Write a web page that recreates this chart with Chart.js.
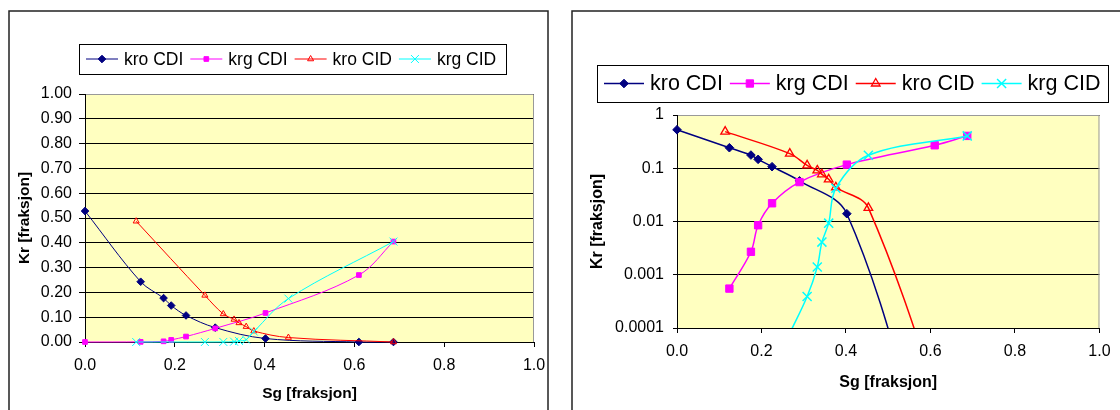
<!DOCTYPE html>
<html>
<head>
<meta charset="utf-8">
<title>Relativ permeabilitet</title>
<script src="https://cdn.jsdelivr.net/npm/chart.js@4.4.1/dist/chart.umd.min.js"></script>
<style>
    html, body { margin: 0; padding: 0; background: #fff; }
    #wrap { position: relative; width: 1120px; height: 410px; overflow: hidden; }
    #wrap canvas { position: absolute; top: 0; }
    #lin-chart { left: 0; }
    #log-chart { left: 560px; }
</style>
</head>
<body>
<div id="wrap">
    <canvas id="lin-chart" width="560" height="410"></canvas>
    <canvas id="log-chart" width="560" height="410"></canvas>
</div>
<script>
// Gas saturation for the two test sequences
var sgCDI = [0, 0.124, 0.175, 0.192, 0.225, 0.290, 0.402, 0.610, 0.687];
var sgCID = [0.114, 0.267, 0.308, 0.332, 0.343, 0.359, 0.376, 0.453, 0.687];

// Relative permeabilities
var kroCDI = [0.528, 0.243, 0.177, 0.147, 0.107, 0.058, 0.014, 1e-7, 0];
var krgCDI = [0, 0.00055, 0.0027, 0.0085, 0.022, 0.055, 0.117, 0.270, 0.405];
var kroCID = [0.487, 0.188, 0.113, 0.091, 0.077, 0.062, 0.044, 0.018, 1e-7];
var krgCID = [0, 0.00008, 0.00039, 0.0014, 0.0041, 0.0093, 0.042, 0.175, 0.405];

var seriesNames = ['kro CDI', 'krg CDI', 'kro CID', 'krg CID'];

// Axis ticks
var sgTicks = [0, 0.2, 0.4, 0.6, 0.8, 1.0];
var sgTickLabels = ['0.0', '0.2', '0.4', '0.6', '0.8', '1.0'];
var krLinTicks = [0, 0.1, 0.2, 0.3, 0.4, 0.5, 0.6, 0.7, 0.8, 0.9, 1.0];
var krLinTickLabels = ['0.00', '0.10', '0.20', '0.30', '0.40', '0.50', '0.60', '0.70', '0.80', '0.90', '1.00'];
var krLogTicks = [0.0001, 0.001, 0.01, 0.1, 1];
var krLogTickLabels = ['0.0001', '0.001', '0.01', '0.1', '1'];

var FONT = '"Liberation Sans", Arial, sans-serif';

var seriesStyle = [
    { color: '#000080', marker: 'rectRot', fill: true },
    { color: '#ff00ff', marker: 'rect', fill: true },
    { color: '#ff0000', marker: 'triangle', fill: false },
    { color: '#00ffff', marker: 'crossRot', fill: false }
];

// Frame, plot border and legend drawn Excel style
var excelChrome = {
    id: 'excelChrome',
    beforeDraw: function(chart, args, opts) {
        var ctx = chart.ctx, a = chart.chartArea, f = opts.frame;
        ctx.save();
        ctx.fillStyle = '#fff';
        ctx.fillRect(0, 0, chart.width, chart.height);
        ctx.strokeStyle = '#222';
        ctx.lineWidth = 1.5;
        ctx.strokeRect(f.x, f.y, f.w, f.h);
        ctx.fillStyle = '#ffffc0';
        ctx.fillRect(a.left, a.top, a.right - a.left, a.bottom - a.top);
        ctx.restore();
    },
    beforeDatasetsDraw: function(chart) {
        var ctx = chart.ctx, a = chart.chartArea;
        ctx.save();
        ctx.strokeStyle = '#999';
        ctx.lineWidth = 1;
        ctx.beginPath();
        ctx.moveTo(a.left + 1, a.top + 0.5);
        ctx.lineTo(a.right - 0.5, a.top + 0.5);
        ctx.lineTo(a.right - 0.5, a.bottom);
        ctx.stroke();
        ctx.restore();
    },
    afterDraw: function(chart, args, opts) {
        var ctx = chart.ctx, L = opts.legend;
        ctx.save();
        ctx.fillStyle = '#fff';
        ctx.fillRect(L.x, L.y, L.w, L.h);
        ctx.strokeStyle = '#000';
        ctx.lineWidth = 1;
        ctx.strokeRect(L.x + 0.5, L.y + 0.5, L.w, L.h);

        ctx.font = L.fontSize + 'px ' + FONT;
        ctx.textBaseline = 'middle';
        ctx.textAlign = 'left';
        var cx = L.startX, cy = L.y + L.h / 2;
        chart.data.datasets.forEach(function(ds) {
            ctx.strokeStyle = ds.borderColor;
            ctx.lineWidth = ds.borderWidth;
            ctx.beginPath();
            ctx.moveTo(cx, cy);
            ctx.lineTo(cx + L.lineLen, cy);
            ctx.stroke();

            ctx.fillStyle = ds.pointBackgroundColor;
            ctx.strokeStyle = ds.pointBorderColor;
            ctx.lineWidth = ds.pointBorderWidth;
            Chart.helpers.drawPoint(ctx, {
                pointStyle: ds.pointStyle,
                radius: ds.pointRadius,
                rotation: 0,
                borderWidth: ds.pointBorderWidth
            }, cx + L.lineLen / 2, cy);

            ctx.fillStyle = '#000';
            var tx = cx + L.lineLen + L.textGap;
            ctx.fillText(ds.label, tx, cy + L.textDy);
            cx = tx + ctx.measureText(ds.label).width + L.itemGap;
        });
        ctx.restore();
    }
};

function buildDatasets(isLog, radii, lineWidth, markerWidth) {
    var xs = [sgCDI, sgCDI, sgCID, sgCID];
    var ys = [kroCDI, krgCDI, kroCID, krgCID];
    return seriesNames.map(function(name, i) {
        var st = seriesStyle[i];
        var pts = xs[i].map(function(x, j) {
            var v = ys[i][j];
            // zero has no place on a log axis
            return { x: x, y: (isLog && v <= 0) ? null : v };
        });
        return {
            label: name,
            data: pts,
            showLine: true,
            borderColor: st.color,
            borderWidth: lineWidth,
            tension: 0.35,
            pointStyle: st.marker,
            pointRadius: radii[i],
            pointHoverRadius: radii[i],
            pointBackgroundColor: st.fill ? st.color : 'rgba(0,0,0,0)',
            pointBorderColor: st.color,
            pointBorderWidth: markerWidth[i],
            order: 3 - i,
            clip: { left: 10, top: 10, right: 10, bottom: isLog ? 0 : 10 }
        };
    });
}

function fixedTicks(values) {
    return function(scale) {
        scale.ticks = values.map(function(v) { return { value: v }; });
    };
}

function makeChart(canvasId, cfg) {
    var isLog = cfg.log;
    return new Chart(document.getElementById(canvasId).getContext('2d'), {
        type: 'scatter',
        data: { datasets: buildDatasets(isLog, cfg.radii, cfg.lineWidth, cfg.markerWidth) },
        plugins: [excelChrome],
        options: {
            responsive: false,
            maintainAspectRatio: false,
            animation: false,
            devicePixelRatio: 1,
            layout: { padding: cfg.padding },
            elements: { line: { capBezierPoints: false } },
            plugins: {
                legend: { display: false },
                tooltip: { enabled: false },
                excelChrome: { frame: cfg.frame, legend: cfg.legend }
            },
            scales: {
                x: {
                    type: 'linear',
                    min: 0, max: 1,
                    afterBuildTicks: fixedTicks(sgTicks),
                    afterFit: function(scale) { scale.height = cfg.xHeight; },
                    grid: { drawOnChartArea: false, color: '#000', tickLength: 5 },
                    border: { color: '#000', width: 1 },
                    ticks: {
                        color: '#000', padding: 9.4,
                        font: { family: FONT, size: 16 },
                        maxRotation: 0,
                        callback: function(v, i) { return sgTickLabels[i]; }
                    },
                    title: {
                        display: true, text: 'Sg [fraksjon]', color: '#000',
                        font: { family: FONT, size: cfg.titleSize, weight: 'bold' },
                        padding: { top: 0, bottom: cfg.xTitlePad }
                    }
                },
                y: {
                    type: isLog ? 'logarithmic' : 'linear',
                    min: isLog ? 0.0001 : 0,
                    max: 1,
                    afterBuildTicks: fixedTicks(isLog ? krLogTicks : krLinTicks),
                    afterFit: function(scale) { scale.width = cfg.yWidth; },
                    grid: { color: '#000', tickLength: cfg.yTickLen },
                    border: { color: '#000', width: 1 },
                    ticks: {
                        color: '#000', padding: cfg.yTickPad,
                        font: { family: FONT, size: 16 },
                        callback: function(v, i) {
                            return (isLog ? krLogTickLabels : krLinTickLabels)[i];
                        }
                    },
                    title: {
                        display: true, text: 'Kr [fraksjon]', color: '#000',
                        font: { family: FONT, size: cfg.titleSize, weight: 'bold' },
                        padding: { top: cfg.yTitlePad, bottom: 0 }
                    }
                }
            }
        }
    });
}

makeChart('lin-chart', {
    log: false,
    padding: { left: 0, top: 94, right: 26, bottom: 0 },
    yWidth: 85, xHeight: 68,
    yTickLen: 6, yTickPad: 7,
    titleSize: 15.5, xTitlePad: 6.7, yTitlePad: 15.7,
    radii: [3.8, 3.3, 3.5, 5.6],
    markerWidth: [1, 1, 1, 1],
    lineWidth: 1,
    frame: { x: 9, y: 11, w: 539, h: 420 },
    legend: { x: 79, y: 44, w: 427, h: 30, startX: 86, lineLen: 32, textGap: 6, itemGap: 7, fontSize: 17.5, textDy: 1 }
});

makeChart('log-chart', {
    log: true,
    padding: { left: 0, top: 115, right: 13, bottom: 0 },
    yWidth: 117, xHeight: 82,
    yTickLen: 4, yTickPad: 9,
    titleSize: 16, xTitlePad: 17.7, yTitlePad: 27.9,
    radii: [4.3, 5.2, 5, 6.4],
    markerWidth: [1, 1, 1.3, 1.5],
    lineWidth: 1.5,
    frame: { x: 12, y: 11, w: 600, h: 420 },
    legend: { x: 37, y: 65, w: 511, h: 37, startX: 44, lineLen: 40, textGap: 6, itemGap: 7, fontSize: 21.5, textDy: 1 }
});
</script>
</body>
</html>
